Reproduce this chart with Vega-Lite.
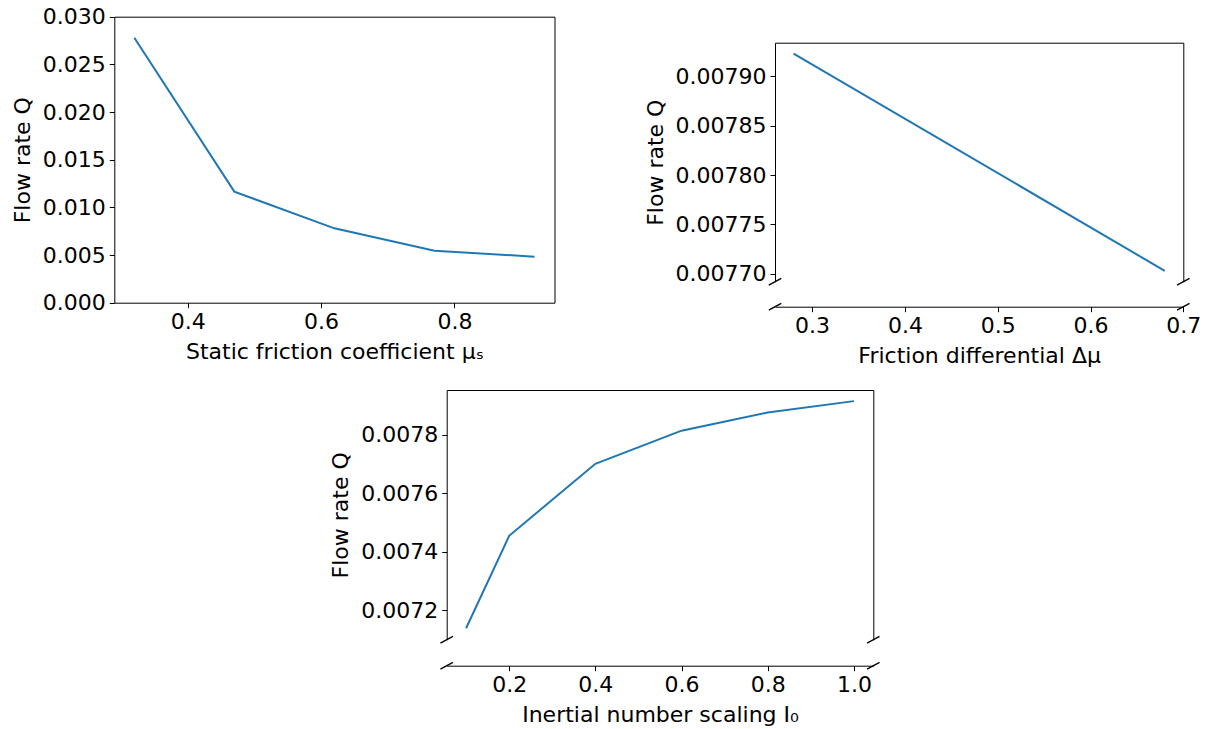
{
  "$schema": "https://vega.github.io/schema/vega-lite/v6.json",
  "width": 1210,
  "height": 729,
  "autosize": {"type": "none"},
  "padding": 0,
  "background": "white",
  "config": {
    "font": "DejaVu Sans",
    "view": {"stroke": null},
    "axis": {
      "labelFont": "DejaVu Sans", "labelFontSize": 22, "labelColor": "#000",
      "titleFont": "DejaVu Sans", "titleFontSize": 22, "titleFontWeight": "normal", "titleColor": "#000",
      "domainColor": "#000", "domainWidth": 1, "tickColor": "#000", "tickWidth": 1, "tickSize": 5,
      "labelPadding": 4, "grid": false, "labelFlush": false, "labelOverlap": false
    },
    "axisX": {"titlePadding": 9},
    "axisY": {"titlePadding": 8}
  },
  "resolve": {"scale": {"x": "independent", "y": "independent"}},
  "layer": [
    {
      "data": {"values": [
        {"mu": 0.32, "Q": 0.0278},
        {"mu": 0.47, "Q": 0.01165},
        {"mu": 0.62, "Q": 0.0078},
        {"mu": 0.77, "Q": 0.00545},
        {"mu": 0.92, "Q": 0.00483}
      ]},
      "layer": [
        {
          "mark": {"type": "line", "color": "#1f77b4", "strokeWidth": 2},
          "encoding": {
            "x": {"field": "mu", "type": "quantitative",
              "scale": {"domain": [0.29, 0.95], "range": [114.3, 554.5], "nice": false, "zero": false},
              "axis": {"orient": "bottom", "offset": -426.3, "values": [0.4, 0.6, 0.8], "format": ".1f", "title": "Static friction coefficient μₛ"}},
            "y": {"field": "Q", "type": "quantitative",
              "scale": {"domain": [0, 0.03], "range": [302.7, 16.7], "nice": false, "zero": false},
              "axis": {"orient": "left", "offset": -114.3, "values": [0, 0.005, 0.01, 0.015, 0.02, 0.025, 0.03], "format": ".3f", "title": "Flow rate Q"}}
          }
        },
        {
          "mark": {"type": "line", "opacity": 0},
          "encoding": {
            "x": {"field": "mu", "type": "quantitative",
              "axis": {"orient": "top", "offset": -16.7, "labels": false, "ticks": false, "title": null, "domain": true}},
            "y": {"field": "Q", "type": "quantitative",
              "axis": {"orient": "right", "offset": -655.5, "labels": false, "ticks": false, "title": null, "domain": true}}
          }
        }
      ]
    },
    {
      "data": {"values": [
        {"dmu": 0.28, "Q": 0.007923},
        {"dmu": 0.68, "Q": 0.007703}
      ]},
      "layer": [
        {
          "mark": {"type": "line", "color": "#1f77b4", "strokeWidth": 2},
          "encoding": {
            "x": {"field": "dmu", "type": "quantitative",
              "scale": {"domain": [0.26, 0.70], "range": [775, 1183.3], "nice": false, "zero": false},
              "axis": {"orient": "bottom", "offset": -422.3, "values": [0.3, 0.4, 0.5, 0.6, 0.7], "format": ".1f", "title": "Friction differential Δμ"}},
            "y": {"field": "Q", "type": "quantitative",
              "scale": {"domain": [0.007692, 0.007934], "range": [281.7, 42.7], "nice": false, "zero": false},
              "axis": {"orient": "left", "offset": -775, "values": [0.0077, 0.00775, 0.0078, 0.00785, 0.0079], "format": ".5f", "title": "Flow rate Q"}}
          }
        },
        {
          "mark": {"type": "line", "opacity": 0},
          "encoding": {
            "x": {"field": "dmu", "type": "quantitative",
              "axis": {"orient": "top", "offset": -42.7, "labels": false, "ticks": false, "title": null, "domain": true}},
            "y": {"field": "Q", "type": "quantitative",
              "axis": {"orient": "right", "offset": -26.7, "labels": false, "ticks": false, "title": null, "domain": true}}
          }
        },
        {
          "data": {"values": [{"edge": 0.26}, {"edge": 0.70}]},
          "mark": {"type": "point", "shape": "M-1,0.54L1,-0.54", "size": 156, "filled": false, "stroke": "#000", "strokeWidth": 1.3, "opacity": 1},
          "encoding": {
            "x": {"field": "edge", "type": "quantitative", "axis": null},
            "y": {"datum": 0.007692, "type": "quantitative", "axis": null}
          }
        },
        {
          "data": {"values": [{"edge": 0.26}, {"edge": 0.70}]},
          "mark": {"type": "point", "shape": "M-1,0.54L1,-0.54", "size": 156, "filled": false, "stroke": "#000", "strokeWidth": 1.3, "opacity": 1, "yOffset": 25},
          "encoding": {
            "x": {"field": "edge", "type": "quantitative", "axis": null},
            "y": {"datum": 0.007692, "type": "quantitative", "axis": null}
          }
        }
      ]
    },
    {
      "data": {"values": [
        {"I0": 0.1, "Q": 0.007139},
        {"I0": 0.2, "Q": 0.007455},
        {"I0": 0.4, "Q": 0.007701},
        {"I0": 0.6, "Q": 0.007814},
        {"I0": 0.8, "Q": 0.007876},
        {"I0": 1.0, "Q": 0.007915}
      ]},
      "layer": [
        {
          "mark": {"type": "line", "color": "#1f77b4", "strokeWidth": 2},
          "encoding": {
            "x": {"field": "I0", "type": "quantitative",
              "scale": {"domain": [0.055, 1.045], "range": [446.7, 873.3], "nice": false, "zero": false},
              "axis": {"orient": "bottom", "offset": -63.3, "values": [0.2, 0.4, 0.6, 0.8, 1.0], "format": ".1f", "title": "Inertial number scaling I₀"}},
            "y": {"field": "Q", "type": "quantitative",
              "scale": {"domain": [0.0071, 0.007953], "range": [639.7, 390], "nice": false, "zero": false},
              "axis": {"orient": "left", "offset": -446.7, "values": [0.0072, 0.0074, 0.0076, 0.0078], "format": ".4f", "title": "Flow rate Q"}}
          }
        },
        {
          "mark": {"type": "line", "opacity": 0},
          "encoding": {
            "x": {"field": "I0", "type": "quantitative",
              "axis": {"orient": "top", "offset": -390, "labels": false, "ticks": false, "title": null, "domain": true}},
            "y": {"field": "Q", "type": "quantitative",
              "axis": {"orient": "right", "offset": -336.7, "labels": false, "ticks": false, "title": null, "domain": true}}
          }
        },
        {
          "data": {"values": [{"edge": 0.055}, {"edge": 1.045}]},
          "mark": {"type": "point", "shape": "M-1,0.54L1,-0.54", "size": 156, "filled": false, "stroke": "#000", "strokeWidth": 1.3, "opacity": 1},
          "encoding": {
            "x": {"field": "edge", "type": "quantitative", "axis": null},
            "y": {"datum": 0.0071, "type": "quantitative", "axis": null}
          }
        },
        {
          "data": {"values": [{"edge": 0.055}, {"edge": 1.045}]},
          "mark": {"type": "point", "shape": "M-1,0.54L1,-0.54", "size": 156, "filled": false, "stroke": "#000", "strokeWidth": 1.3, "opacity": 1, "yOffset": 26},
          "encoding": {
            "x": {"field": "edge", "type": "quantitative", "axis": null},
            "y": {"datum": 0.0071, "type": "quantitative", "axis": null}
          }
        }
      ]
    }
  ]
}
